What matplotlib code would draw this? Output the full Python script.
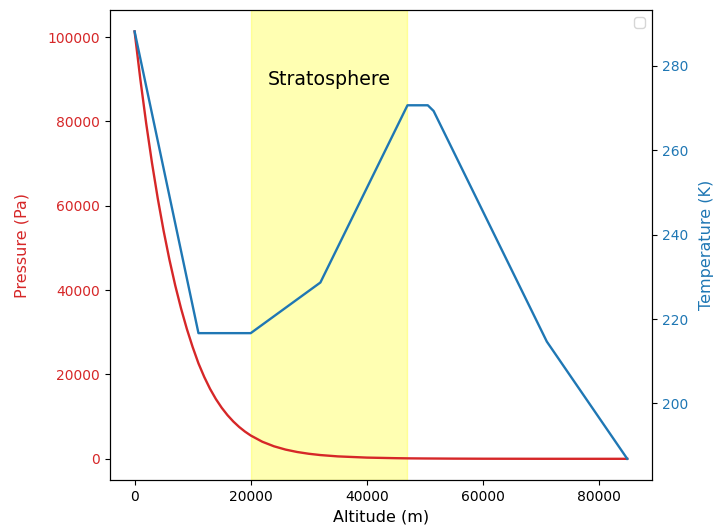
import matplotlib
matplotlib.use('Agg')
import matplotlib.pyplot as plt

# Pressure vs altitude (standard atmosphere)
alt_p = [0, 1000, 2000, 3000, 4000, 5000, 6000, 7000, 8000, 9000, 10000,
         11000, 12000, 13000, 14000, 15000, 16000, 17000, 18000, 19000, 20000,
         22000, 24000, 26000, 28000, 30000, 32000, 35000, 40000, 45000, 47000,
         50000, 55000, 60000, 70000, 80000, 84852]
pressure = [101325, 89876, 79501, 70121, 61660, 54048, 47217, 41105, 35651, 30800, 26500,
            22632, 19399, 16580, 14170, 12111, 10352, 8849, 7565, 6467, 5529,
            4047, 2972, 2188, 1616, 1197, 889, 575, 287, 149, 111,
            80, 43, 22, 5.2, 0.9, 0.37]

# Temperature vs altitude (layer breakpoints)
alt_t = [0, 11000, 20000, 32000, 47000, 50500, 51500, 71000, 84852]
temperature = [288.15, 216.65, 216.65, 228.65, 270.65, 270.65, 269.3, 214.65, 186.87]

strat_start, strat_end = 20000, 47000

fig, ax1 = plt.subplots(figsize=(7.14, 5.3), dpi=100)
fig.subplots_adjust(left=0.154, right=0.913, top=0.981, bottom=0.094)

ax1.axvspan(strat_start, strat_end, color='yellow', alpha=0.3)
ax1.text((strat_start + strat_end) / 2, 90000, 'Stratosphere', ha='center', va='center', fontsize=13.7)

ax1.plot(alt_p, pressure, color='tab:red', lw=1.7)
ax1.set_xlabel('Altitude (m)', fontsize=11.5)
ax1.set_ylabel('Pressure (Pa)', color='tab:red', fontsize=11.5, labelpad=13)
ax1.tick_params(axis='y', labelcolor='tab:red')

ax2 = ax1.twinx()
ax2.plot(alt_t, temperature, color='tab:blue', lw=1.7)
ax2.set_ylabel('Temperature (K)', color='tab:blue', fontsize=11.5, labelpad=8)
ax2.tick_params(axis='y', labelcolor='tab:blue')
ax2.legend(loc='upper right')

fig.savefig('out.png')
